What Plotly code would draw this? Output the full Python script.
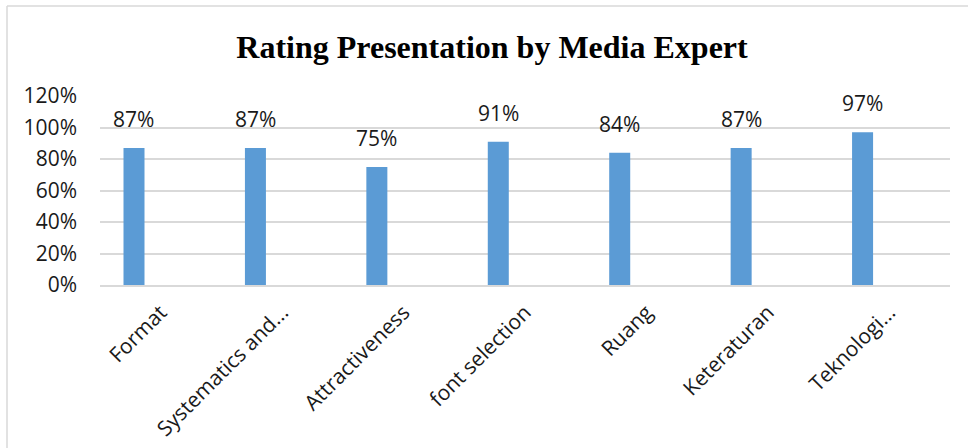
import plotly.graph_objects as go

categories = ["Format", "Systematics and...", "Attractiveness", "font selection",
              "Ruang", "Keteraturan", "Teknologi..."]
values = [0.87, 0.87, 0.75, 0.91, 0.84, 0.87, 0.97]
value_labels = ["87%", "87%", "75%", "91%", "84%", "87%", "97%"]
y_ticks = [0, 0.2, 0.4, 0.6, 0.8, 1.0, 1.2]
y_ticktext = ["0%", "20%", "40%", "60%", "80%", "100%", "120%"]

W, H = 968, 448
L, R, T, B = 100, 18, 96, 163
pw, ph = W - L - R, H - T - B

bar_w = 0.173
bar_off = -0.22 - bar_w / 2

fig = go.Figure()
fig.add_trace(go.Bar(
    x=categories, y=values,
    marker=dict(color="#5B9BD5", line=dict(width=0)),
    width=bar_w, offset=bar_off,
    hoverinfo="skip",
))

for c, v, t in zip(categories, values, value_labels):
    fig.add_annotation(
        x=c, y=v, text=t, showarrow=False,
        xanchor="center", yanchor="bottom",
        xshift=-0.22 * pw / 7, yshift=13,
        font=dict(family="Open Sans", size=21, color="#1a1a1a"),
    )

def px_x(p):
    return (p - L) / pw

def px_y(p):
    return (H - B - p) / ph

frame_col = "#d9d9d9"
fig.add_shape(type="line", xref="paper", yref="paper",
              x0=px_x(7), x1=px_x(1000), y0=px_y(6), y1=px_y(6),
              line=dict(color=frame_col, width=1.5))
fig.add_shape(type="line", xref="paper", yref="paper",
              x0=px_x(7), x1=px_x(7), y0=px_y(6), y1=px_y(460),
              line=dict(color=frame_col, width=1.5))

fig.update_layout(
    width=W, height=H,
    margin=dict(l=L, r=R, t=T, b=B, pad=0, autoexpand=False),
    paper_bgcolor="white", plot_bgcolor="white",
    showlegend=False,
    title=dict(
        text="<b>Rating Presentation by Media Expert</b>",
        x=492 / W, xanchor="center", xref="container",
        y=1 - 47 / H, yanchor="middle", yref="container",
        font=dict(family="Liberation Serif", size=32, color="black"),
    ),
    xaxis=dict(
        type="category", range=[-0.5, 6.5], automargin=False,
        tickangle=-45, ticks="", showgrid=False,
        showline=True, linecolor="#d9d9d9", linewidth=1.5,
        tickfont=dict(family="Open Sans", size=21, color="#1a1a1a"),
        ticklabelstandoff=5,
    ),
    yaxis=dict(
        range=[0, 1.2], tickvals=y_ticks, ticktext=y_ticktext,
        showgrid=True, gridcolor="#d9d9d9", gridwidth=1.5, automargin=False,
        zeroline=False, showline=False, ticks="",
        tickfont=dict(family="Open Sans", size=21, color="#1a1a1a"),
        ticklabelstandoff=22,
    ),
)

fig.write_html("out.html")
